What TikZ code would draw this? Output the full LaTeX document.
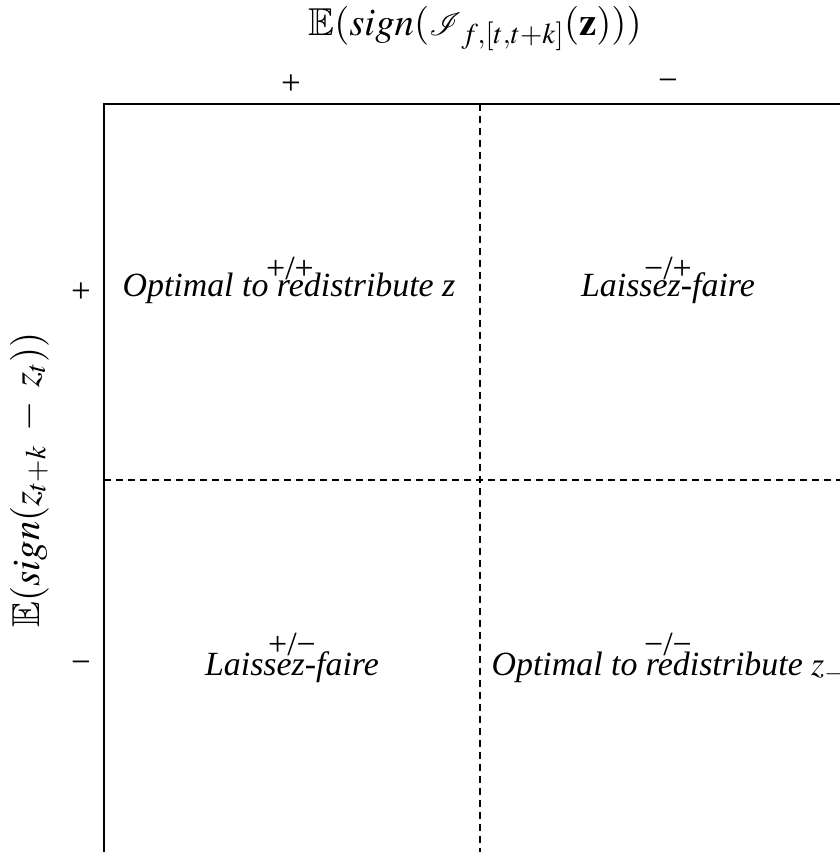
\documentclass[tikz,border=0pt]{standalone}
\usepackage{mathptmx}
\usepackage{amssymb}
\usepackage{mathrsfs}
\usepackage{graphicx}
\usepackage[no-math]{fontspec}
\setmainfont{Liberation Serif}
\begin{document}
\begin{tikzpicture}[x=1bp,y=-1bp]
\tikzset{
  axisline/.style={line width=2.2bp, line cap=rect},
  divider/.style={line width=1.5bp, dash pattern=on 7bp off 5bp},
  ticklabel/.style={inner sep=0pt, anchor=center, font=\fontsize{35}{40}\selectfont},
  axislabel/.style={inner sep=0pt, anchor=base, font=\fontsize{39}{44}\selectfont},
  signlabel/.style={inner sep=0pt, anchor=base, font=\fontsize{34}{40}\selectfont},
  celltext/.style={inner sep=0pt, anchor=base, font=\fontsize{34}{40}\selectfont\itshape}
}
\useasboundingbox (0,0) rectangle (840,852);
% frame
\coordinate (corner) at (104,104);
\coordinate (topright) at (840,104);
\coordinate (botleft) at (104,852);
\coordinate (vtop) at (480,104);
\coordinate (vbot) at (480,852);
\coordinate (hleft) at (104,480);
\coordinate (hright) at (840,480);
\draw[axisline] (botleft) -- (corner) -- (topright);
\draw[divider] (vtop) -- (vbot);
\draw[divider] (hleft) -- (hright);
% axis titles
\node[axislabel] (title) at (475,35) {$\mathbb{E}(\mathit{sign}({\scalebox{1.3}{$\mathscr{I}$}}_{f,[t,t+k]}(\mathbf{z})))$};
\node[axislabel, rotate=90] (ylab) at (39,480) {$\mathbb{E}(\mathit{sign}(z_{t+k}\;-\;z_{t}))$};
% tick labels
\node[ticklabel] (tp) at (291,85) {+};
\node[ticklabel] (tm) at (668,85) {−};
\node[ticklabel] (lp) at (81,293) {+};
\node[ticklabel] (lm) at (81,667) {−};
% cells
\node[signlabel] (pp) at (290,279) {+/+};
\node[celltext] (ppt) at (289,296) {Optimal to redistribute z};
\node[signlabel] (mp) at (668,279) {−/+};
\node[celltext] (mpt) at (668,296) {Laissez-faire};
\node[signlabel] (pm) at (292,655) {+/−};
\node[celltext] (pmt) at (292,675) {Laissez-faire};
\node[signlabel] (mm) at (668,655) {−/−};
\node[celltext] (mmt) at (668,675) {Optimal to redistribute $z_{-}$};
\end{tikzpicture}
\end{document}
